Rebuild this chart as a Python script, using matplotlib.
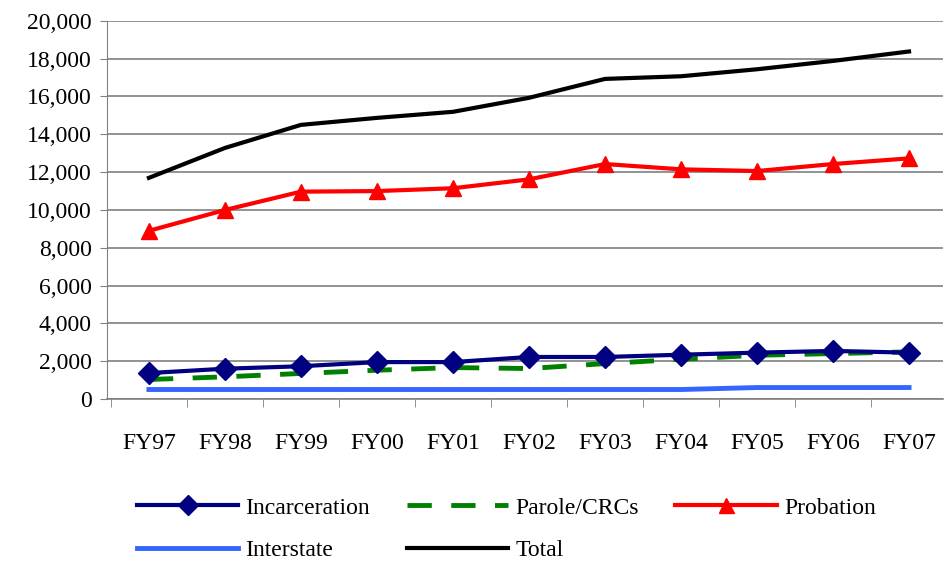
import matplotlib
matplotlib.use("Agg")
import matplotlib.pyplot as plt
from matplotlib.ticker import FuncFormatter, FixedLocator

plt.rcParams['font.family'] = ['Liberation Serif', 'DejaVu Serif']

years = ["FY97", "FY98", "FY99", "FY00", "FY01", "FY02", "FY03", "FY04", "FY05", "FY06", "FY07"]
incarceration = [1380, 1610, 1740, 1960, 1960, 2230, 2230, 2350, 2460, 2550, 2460]
parole_crcs = [1040, 1180, 1360, 1530, 1670, 1620, 1880, 2110, 2320, 2410, 2500]
probation = [8900, 10000, 10970, 11000, 11150, 11620, 12430, 12150, 12060, 12430, 12730]
interstate = [510, 510, 510, 510, 510, 510, 510, 510, 615, 615, 615]
total = [11700, 13280, 14500, 14870, 15190, 15930, 16930, 17070, 17440, 17880, 18380]

fig = plt.figure(figsize=(9.48, 5.63), dpi=100)
ax = fig.add_axes([0.113, 0.291, 0.882, 0.672])

x = list(range(len(years)))
ax.plot(x, interstate, color='#3366FF', lw=3.5, label='Interstate', zorder=3)
ax.plot(x, total, color='black', lw=3, label='Total', zorder=3)
ax.plot(x, parole_crcs, color='#008000', lw=3.5, dashes=(5, 4), label='Parole/CRCs', zorder=4)
ax.plot(x, incarceration, color='#000080', lw=3, marker='D', markersize=11, label='Incarceration', zorder=5)
ax.plot(x, probation, color='#FF0000', lw=3, marker='^', markersize=12, label='Probation', zorder=5)

ax.set_xlim(-0.55, 10.45)
ax.set_ylim(0, 20000)
ax.set_yticks(range(0, 20001, 2000))
ax.yaxis.set_major_formatter(FuncFormatter(lambda v, p: f"{int(v):,}"))
ax.yaxis.grid(True, color='#808080', lw=1.2)
ax.set_axisbelow(True)
ax.set_xticks(x)
ax.set_xticklabels(years)
ax.xaxis.set_minor_locator(FixedLocator([i + 0.5 for i in range(-1, 11)]))
ax.tick_params(axis='x', which='major', length=0, pad=24, labelsize=17)
ax.tick_params(axis='x', which='minor', length=6, color='#808080')
ax.tick_params(axis='y', length=5, color='#808080', labelsize=17, pad=6)
for s in ['top', 'right']:
    ax.spines[s].set_visible(False)
ax.spines['left'].set_color('#808080')
ax.spines['bottom'].set_color('#808080')
ax.spines['bottom'].set_linewidth(1.2)

h, l = ax.get_legend_handles_labels()
hd = dict(zip(l, h))
# arrange row-wise for ncol=3 (matplotlib fills column-wise)
lab_cols = ['Incarceration', 'Interstate', 'Parole/CRCs', 'Total', 'Probation']
fig.legend([hd[k] for k in lab_cols], lab_cols, loc='lower left', bbox_to_anchor=(0.122, -0.035),
           ncol=3, frameon=False, fontsize=17, handlelength=4.3, handletextpad=0.3,
           columnspacing=1.55, labelspacing=0.9, markerscale=0.9)

fig.savefig('out.png', dpi=100)
